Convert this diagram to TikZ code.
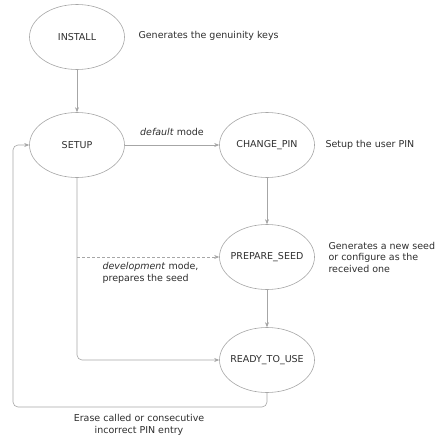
\documentclass[tikz,border=0pt]{standalone}
\usepackage{fontspec}
\setmainfont{DejaVu Sans}
\usetikzlibrary{shapes.geometric,arrows.meta}
\definecolor{linegray}{HTML}{A6A6A6}
\definecolor{textgray}{HTML}{2E2E2E}
\begin{document}
\begin{tikzpicture}[x=1pt, y=-1pt,
  every node/.style = {font=\fontsize{9.5}{11.5}\selectfont, text=textgray},
  state/.style = {ellipse, draw=linegray, line width=0.6pt,
    minimum width=95pt, minimum height=65pt, inner xsep=-10pt, inner ysep=0pt},
  note/.style = {anchor=west, align=left},
  flow/.style = {draw=linegray, line width=0.6pt, rounded corners=5pt,
    -{Stealth[length=5pt,width=4pt]}}]
  \useasboundingbox (0,0) rectangle (436,436);
  \node[state] (install) at (77,37) {INSTALL};
  \node[state] (setup) at (77,145) {SETUP};
  \node[state] (changepin) at (267,145) {CHANGE\_PIN};
  \node[state] (prepareseed) at (267,257) {PREPARE\_SEED};
  \node[state] (ready) at (267,360) {READY\_TO\_USE};
  \node[note] (installnote) at (135,36) {Generates the genuinity keys};
  \node[note] (pinnote) at (322,145) {Setup the user PIN};
  \node[note] (seednote) at (325,257) {Generates a new seed\\or configure as the\\received one};
  \coordinate (devfork) at (setup.south |- prepareseed.west);
  \coordinate (loopcorner) at (13,407);
  \draw[flow] (install) -- (setup);
  \draw[flow] (setup) -- node[above=6pt] (defaultlabel) {\textit{default} mode} (changepin);
  \draw[flow] (changepin) -- (prepareseed);
  \draw[flow] (prepareseed) -- (ready);
  \draw[flow] (setup) |- (ready);
  \draw[flow, dash pattern=on 3pt off 2pt] (devfork) -- (prepareseed);
  \node[note, anchor=north west] (devlabel) at (99,259)
    {\textit{development} mode,\\prepares the seed};
  \draw[flow] (ready) |- (loopcorner) |- (setup);
  \node[align=center] (erasenote) at (139,425)
    {Erase called or consecutive\\incorrect PIN entry};
\end{tikzpicture}
\end{document}
